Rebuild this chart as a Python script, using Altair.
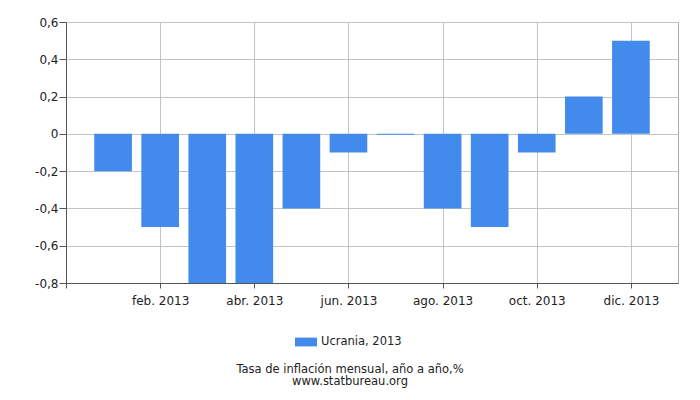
import altair as alt
import pandas as pd

months = list(range(1, 13))
values = [-0.2, -0.5, -0.8, -0.8, -0.4, -0.1, -0.005, -0.4, -0.5, -0.1, 0.2, 0.5]
series_name = "Ucrania, 2013"
month_labels = ["", "ene.", "feb.", "mar.", "abr.", "may.", "jun.", "jul.", "ago.", "sep.", "oct.", "nov.", "dic."]
x_tick_values = [0, 2, 4, 6, 8, 10, 12]
y_tick_values = [-0.8, -0.6, -0.4, -0.2, 0, 0.2, 0.4, 0.6]
title_text = "Tasa de inflación mensual, año a año,%"
subtitle_text = "www.statbureau.org"

df = pd.DataFrame({"month": months, "value": values, "series": [series_name] * 12})

arr = "[" + ",".join("'" + m + "'" for m in month_labels) + "]"
x_label_expr = f"datum.value == 0 ? '' : {arr}[datum.value] + ' 2013'"
y_label_expr = ("datum.value == 0 ? '0' : (datum.value < 0 ? '-' : '') + "
                "replace(format(abs(datum.value), '.1f'), '.', ',')")

FONT = "DejaVu Sans"

chart = (
    alt.Chart(df)
    .transform_calculate(m0="datum.month - 0.4", m1="datum.month + 0.4")
    .mark_bar()
    .encode(
        x=alt.X(
            "m0:Q",
            scale=alt.Scale(domain=[0, 13], nice=False, zero=False),
            axis=alt.Axis(
                values=x_tick_values, labelExpr=x_label_expr, title=None,
                grid=True, gridColor="#c4c4c4", domainColor="#555",
                tickColor="#555", tickSize=5, labelFont=FONT, labelFontSize=12,
                labelColor="#222", labelPadding=7,
            ),
        ),
        x2="m1:Q",
        y=alt.Y(
            "value:Q",
            scale=alt.Scale(domain=[-0.8, 0.6], nice=False),
            axis=alt.Axis(
                values=y_tick_values, labelExpr=y_label_expr, title=None,
                grid=True, gridColor="#c4c4c4", domainColor="#555",
                tickColor="#555", tickSize=7, labelFont=FONT, labelFontSize=12,
                labelColor="#222", labelPadding=1,
            ),
        ),
        y2=alt.Y2(datum=0),
        color=alt.Color(
            "series:N",
            scale=alt.Scale(range=["#428bed"]),
            legend=alt.Legend(
                title=None, orient="none", legendX=229, legendY=309,
                symbolType="M-1,-0.4L1,-0.4L1,0.4L-1,0.4Z", symbolSize=484,
                symbolStrokeWidth=0, labelFont=FONT, labelFontSize=11.5,
                labelColor="#222", padding=0,
            ),
        ),
    )
    .properties(
        width=612,
        height=261,
        autosize="none",
        padding={"left": 58, "top": 14, "right": 14, "bottom": 115},
        title=alt.TitleParams(
            text=title_text, subtitle=subtitle_text, orient="bottom",
            anchor="middle", font=FONT, fontSize=11.5, fontWeight="normal",
            color="#222", subtitleFont=FONT, subtitleFontSize=11.5,
            subtitleColor="#222", subtitlePadding=0, offset=16, dx=-22,
        ),
    )
    .configure_view(stroke="#aaa")
)

chart.save("out.html", embed_options={"renderer": "svg", "actions": False})
